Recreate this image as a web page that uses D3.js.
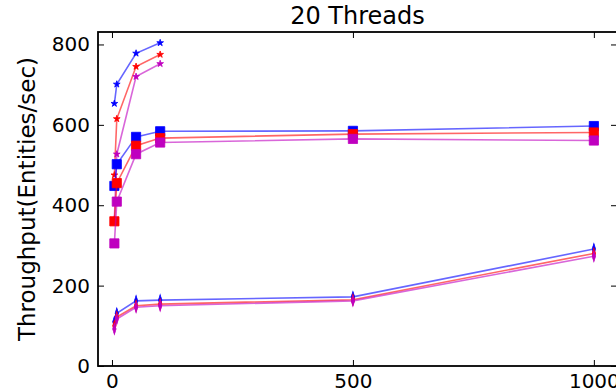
<!DOCTYPE html>
<html>
<head>
<meta charset="utf-8">
<script src="https://cdn.jsdelivr.net/npm/d3@7"></script>
<style>
  body { margin: 0; background: #fff; }
  svg { display: block; font-family: "DejaVu Sans", sans-serif; }
</style>
</head>
<body>
<svg id="chart" width="616" height="392"></svg>
<script>
// x positions (number of entities)
var xsStar = [5, 10, 50, 100];
var xsFull = [5, 10, 50, 100, 500, 1000];

// top group (stars)
var starBlue    = [653, 701, 778, 804];
var starRed     = [475, 615, 745, 775];
var starMagenta = [365, 527, 720, 752];

// middle group (squares)
var sqBlue    = [448, 502, 570, 584, 585, 597];
var sqRed     = [360, 455, 548, 567, 577, 581];
var sqMagenta = [305, 409, 527, 556, 565, 561];

// bottom group (thin diamonds)
var dBlue    = [110, 131, 162, 164, 172, 291];
var dRed     = [100, 122, 150, 154, 165, 280];
var dMagenta = [92, 117, 146, 150, 162, 273];

var xTicks = [0, 500, 1000];
var yTicks = [0, 200, 400, 600, 800];

var colors = { blue: "#0000ff", red: "#ff0000", magenta: "#bf00bf" };

var series = [
  { xs: xsStar, ys: starBlue, color: colors.blue, marker: "star" },
  { xs: xsStar, ys: starRed, color: colors.red, marker: "star" },
  { xs: xsStar, ys: starMagenta, color: colors.magenta, marker: "star" },
  { xs: xsFull, ys: sqBlue, color: colors.blue, marker: "square" },
  { xs: xsFull, ys: sqRed, color: colors.red, marker: "square" },
  { xs: xsFull, ys: sqMagenta, color: colors.magenta, marker: "square" },
  { xs: xsFull, ys: dBlue, color: colors.blue, marker: "diamond" },
  { xs: xsFull, ys: dRed, color: colors.red, marker: "diamond" },
  { xs: xsFull, ys: dMagenta, color: colors.magenta, marker: "diamond" }
];

(function() {
  var svg = d3.select("#chart"),
      pl = 98, pr = 617, pt = 32, pb = 366;

  var x = d3.scaleLinear().domain([-29, 1048]).range([pl, pr]);
  var y = d3.scaleLinear().domain([0, 831]).range([pb, pt]);

  // data
  var line = d3.line()
      .x(function(d) { return x(d[0]); })
      .y(function(d) { return y(d[1]); });

  var symbols = {
    star: d3.symbol().type(d3.symbolStar).size(14),
    square: d3.symbol().type(d3.symbolSquare).size(85),
    diamond: d3.symbol().type(d3.symbolDiamond).size(22)
  };

  series.forEach(function(s) {
    var pts = s.xs.map(function(v, i) { return [v, s.ys[i]]; });
    var g = svg.append("g");
    g.append("path")
        .attr("d", line(pts))
        .attr("fill", "none")
        .attr("stroke", s.color)
        .attr("stroke-opacity", 0.6)
        .attr("stroke-width", 1.6);
    g.selectAll(".m")
      .data(pts)
      .enter().append("path")
        .attr("transform", function(d) {
          var t = "translate(" + x(d[0]) + "," + y(d[1]) + ")";
          return s.marker == "diamond" ? t + " scale(0.7,1.3)" : t;
        })
        .attr("d", symbols[s.marker]())
        .attr("fill", s.color)
        .attr("stroke", s.color)
        .attr("stroke-width", 0.8);
  });

  // axes (ticks inside, on all sides)
  svg.append("g")
      .attr("transform", "translate(0," + pb + ")")
      .call(d3.axisBottom(x).tickValues(xTicks).tickSize(-6).tickPadding(8).tickFormat(d3.format("d")));
  svg.append("g")
      .attr("transform", "translate(0," + pt + ")")
      .call(d3.axisTop(x).tickValues(xTicks).tickSize(-6).tickFormat(""));
  svg.append("g")
      .attr("transform", "translate(" + pl + ",0)")
      .call(d3.axisLeft(y).tickValues(yTicks).tickSize(-6).tickPadding(8).tickFormat(d3.format("d")));
  svg.append("g")
      .attr("transform", "translate(" + pr + ",0)")
      .call(d3.axisRight(y).tickValues(yTicks).tickSize(-6).tickFormat(""));

  svg.selectAll(".domain").remove();
  svg.selectAll(".tick line").attr("stroke", "#000").attr("stroke-width", 1);
  svg.selectAll(".tick text").attr("font-size", 20).attr("fill", "#000")
      .attr("font-family", "DejaVu Sans, sans-serif");

  svg.append("rect")
      .attr("x", pl).attr("y", pt)
      .attr("width", pr - pl).attr("height", pb - pt)
      .attr("fill", "none")
      .attr("stroke", "#000")
      .attr("stroke-width", 1.8);

  svg.append("text")
      .attr("x", (pl + pr) / 2)
      .attr("y", 24)
      .attr("text-anchor", "middle")
      .attr("font-size", 24)
      .text("20 Threads");

  svg.append("text")
      .attr("transform", "translate(35," + (pt + pb) / 2 + ") rotate(-90)")
      .attr("text-anchor", "middle")
      .attr("font-size", 23)
      .text("Throughput(Entities/sec)");
})();
</script>
</body>
</html>
